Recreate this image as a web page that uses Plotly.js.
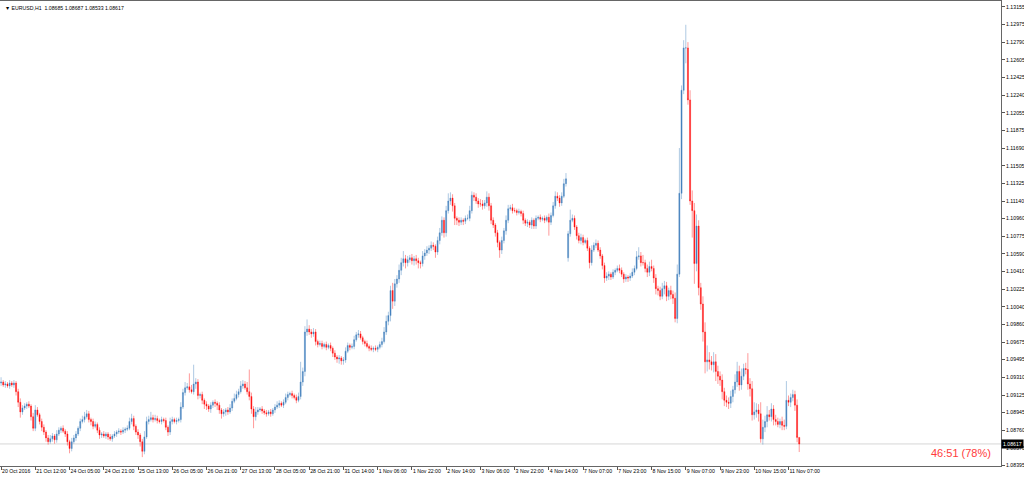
<!DOCTYPE html>
<html>
<head>
<meta charset="utf-8">
<script src="https://cdn.plot.ly/plotly-3.0.1.min.js"></script>
<style>html,body{margin:0;padding:0;background:#fff;}#chart{width:1024px;height:479px;}</style>
</head>
<body>
<div id="chart"></div>
<script>
// EURUSD H1 closes, 20 Oct 2016 20:00 -> 11 Nov 2016 12:00
const closes = [
1.0926,1.0923,1.0924,1.0922,1.0925,1.0923,1.0925,1.0916,1.0905,1.0895,
1.0899,1.0901,1.0903,1.0901,1.0890,1.0878,1.0897,1.0892,1.0885,1.0879,
1.0874,1.0868,1.0864,1.0867,1.0870,1.0866,1.0872,1.0876,1.0878,1.0875,
1.0872,1.0864,1.0857,1.0864,1.0868,1.0872,1.0878,1.0885,1.0887,1.0890,
1.0893,1.0887,1.0885,1.0880,1.0882,1.0876,1.0871,1.0872,1.0870,1.0872,
1.0869,1.0867,1.0870,1.0872,1.0874,1.0875,1.0874,1.0876,1.0877,1.0878,
1.0885,1.0888,1.0880,1.0874,1.0871,1.0864,1.0854,1.0869,1.0885,1.0887,
1.0889,1.0887,1.0888,1.0886,1.0885,1.0887,1.0886,1.0879,1.0874,1.0885,
1.0887,1.0885,1.0886,1.0887,1.0900,1.0915,1.0920,1.0921,1.0918,1.0916,
1.0924,1.0926,1.0912,1.0913,1.0907,1.0903,1.0901,1.0898,1.0902,1.0905,
1.0904,1.0902,1.0897,1.0893,1.0895,1.0897,1.0895,1.0899,1.0906,1.0909,
1.0913,1.0916,1.0922,1.0924,1.0920,1.0916,1.0911,1.0898,1.0890,1.0895,
1.0897,1.0898,1.0896,1.0894,1.0893,1.0895,1.0893,1.0897,1.0900,1.0902,
1.0904,1.0902,1.0905,1.0910,1.0913,1.0914,1.0912,1.0910,1.0907,1.0911,
1.0926,1.0937,1.0978,1.0981,1.0978,1.0976,1.0978,1.0968,1.0965,1.0966,
1.0963,1.0965,1.0962,1.0964,1.0961,1.0956,1.0952,1.0950,1.0951,1.0948,
1.0949,1.0958,1.0964,1.0962,1.0963,1.0970,1.0975,1.0976,1.0972,1.0968,
1.0966,1.0963,1.0961,1.0960,1.0961,1.0960,1.0962,1.0965,1.0968,1.0978,
1.0989,1.0995,1.1021,1.1010,1.1028,1.1033,1.1042,1.1050,1.1054,1.1050,
1.1053,1.1055,1.1052,1.1054,1.1052,1.1050,1.1049,1.1057,1.1060,1.1063,
1.1065,1.1068,1.1067,1.1061,1.1073,1.1081,1.1094,1.1081,1.1104,1.1114,
1.1117,1.1109,1.1096,1.1094,1.1092,1.1094,1.1093,1.1096,1.1096,1.1104,
1.1120,1.1118,1.1114,1.1111,1.1111,1.1109,1.1112,1.1118,1.1109,1.1094,
1.1089,1.1081,1.1071,1.1063,1.1073,1.1083,1.1094,1.1106,1.1107,1.1104,
1.1104,1.1102,1.1103,1.1101,1.1094,1.1091,1.1092,1.1089,1.1094,1.1088,
1.1096,1.1097,1.1095,1.1096,1.1094,1.1097,1.1092,1.1099,1.1109,1.1119,
1.1117,1.1112,1.1119,1.1132,1.1137,1.1080,1.1094,1.1096,1.1087,1.1078,
1.1073,1.1076,1.1071,1.1073,1.1065,1.1050,1.1063,1.1068,1.1070,1.1063,
1.1057,1.1047,1.1034,1.1036,1.1038,1.1035,1.1040,1.1042,1.1044,1.1042,
1.1038,1.1033,1.1035,1.1034,1.1036,1.1040,1.1044,1.1056,1.1057,1.1050,
1.1050,1.1044,1.1040,1.1046,1.1044,1.1034,1.1023,1.1021,1.1015,1.1023,
1.1026,1.1015,1.1021,1.1017,1.1013,1.0992,1.1038,1.1122,1.1229,1.1273,
1.1273,1.1219,1.1114,1.1104,1.1049,1.1088,1.1024,1.1007,1.0978,1.0947,
1.0949,1.0947,1.0944,1.0947,1.0937,1.0932,1.0928,1.0916,1.0907,1.0905,
1.0904,1.0911,1.0918,1.0926,1.0937,1.0923,1.0932,1.0940,1.0939,1.0924,
1.0919,1.0892,1.0895,1.0897,1.0893,1.0867,1.0879,1.0885,1.0892,1.0890,
1.0898,1.0887,1.0885,1.0882,1.0885,1.0881,1.0880,1.0907,1.0905,1.0910,
1.0913,1.0902,1.08685,1.08617
];
// upper / lower wick lengths in pips
const upperWickPips = [
5,2,3,2,3,2,3,2,3,4, 3,3,2,3,2,4,5,3,2,3, 3,2,3,4,3,2,4,3,2,3, 2,3,2,4,3,3,2,3,4,5,
4,3,2,3,3,2,3,2,3,2, 2,3,2,3,2,3,2,3,2,3, 4,5,3,2,3,2,3,6,5,4, 6,3,4,3,2,3,2,3,2,4,
3,2,3,2,5,4,6,4,14,5, 20,4,3,2,3,2,3,2,3,2, 3,2,3,2,3,2,3,4,3,5, 4,3,5,4,3,6,23,4,3,5,
3,2,3,2,3,2,3,2,3,4, 3,2,3,4,3,2,3,2,3,4, 21,4,6,10,4,3,4,3,2,3, 3,2,3,2,3,2,3,2,3,2,
3,4,3,2,3,4,3,4,3,2, 2,3,2,3,2,3,2,3,4,5, 6,4,5,8,5,4,6,5,8,4, 4,3,4,3,4,3,2,5,4,4,
3,4,3,2,4,5,4,3,5,8, 6,4,3,2,3,3,2,3,4,5, 4,3,4,3,5,4,3,6,4,3, 3,2,3,2,4,3,5,4,3,4,
3,2,3,2,3,2,3,2,3,2, 3,2,3,2,3,2,4,3,4,5, 4,3,4,5,6,3,11,4,3,2, 3,4,3,2,3,2,5,3,4,3,
3,2,3,4,3,2,3,2,3,4, 3,2,3,2,3,4,3,6,9,4, 8,3,4,5,7,3,4,3,4,6, 5,4,3,5,4,6,10,47,5,8,
24,6,10,11,8,12,6,5,8,10, 15,8,6,10,8,6,5,6,4,5, 5,6,4,8,10,6,8,5,6,17, 6,8,10,7,6,12,8,6,9,5,
6,4,5,4,3,5,6,20,5,4, 5,4,6,0.2
];
const lowerWickPips = [
3,2,3,2,3,2,3,4,5,6, 3,2,3,2,4,3,3,2,3,4, 3,4,3,2,3,4,3,2,3,2, 3,4,5,3,2,3,2,3,2,3,
2,3,4,3,2,3,4,3,2,3, 3,2,3,2,3,2,3,2,3,2, 2,3,4,3,4,5,6,3,2,3, 2,3,2,3,2,3,2,3,4,3,
3,2,3,2,3,2,3,2,3,2, 3,5,4,3,4,5,4,3,4,3, 4,5,4,5,3,4,3,2,3,2, 2,3,2,3,2,3,4,5,12,4,
3,2,3,2,3,2,3,2,3,2, 3,2,3,2,3,2,3,2,3,2, 3,4,5,4,3,4,3,4,3,2, 3,2,3,2,3,4,3,4,5,4,
4,3,2,3,2,3,2,3,2,3, 3,2,3,2,3,2,3,2,3,2, 3,4,6,8,5,4,4,5,4,6, 4,3,4,5,4,6,5,3,4,3,
4,3,4,6,3,4,3,5,4,3, 4,6,7,5,4,3,4,3,2,3, 3,4,3,4,3,4,3,4,5,4, 3,4,5,8,4,3,4,3,2,3,
2,3,2,3,4,3,4,3,4,3, 3,2,3,2,3,2,14,3,2,3, 3,4,3,2,3,4,3,2,3,4, 3,4,3,2,3,6,3,2,3,2,
3,4,5,3,4,3,2,3,2,3, 3,4,3,4,3,2,3,2,3,4, 3,4,5,4,3,5,6,5,4,3, 6,5,4,5,6,4,5,3,6,4,
16,5,4,28,21,8,8,6,10,12, 10,8,6,8,10,8,6,8,6,5, 6,5,6,4,5,6,5,4,5,6, 8,6,5,6,8,4,6,5,6,4,
5,6,4,3,4,5,4,3,4,5, 4,6,5,8.4
];
const firstOpen = 1.0925;
const gapBars = [265];          // Monday 7 Nov opening gap
const gapOpens = [1.1055];

const xTickBars = [0,16,32,48,64,80,96,112,128,144,160,176,192,208,224,240,256,272,288,304,320,336,352,368];
const xTickLabels = ["20 Oct 2016","21 Oct 12:00","24 Oct 05:00","24 Oct 21:00","25 Oct 13:00","26 Oct 05:00","26 Oct 21:00","27 Oct 13:00","28 Oct 05:00","28 Oct 21:00","31 Oct 14:00","1 Nov 06:00","1 Nov 22:00","2 Nov 14:00","3 Nov 06:00","3 Nov 22:00","4 Nov 14:00","7 Nov 07:00","7 Nov 23:00","8 Nov 15:00","9 Nov 07:00","9 Nov 23:00","10 Nov 15:00","11 Nov 07:00"];
const yTickValues = [1.13155,1.12975,1.12790,1.12605,1.12425,1.12240,1.12055,1.11875,1.11690,1.11505,1.11325,1.11140,1.10960,1.10775,1.10590,1.10410,1.10225,1.10040,1.09860,1.09675,1.09495,1.09310,1.09125,1.08945,1.08760,1.08575,1.08395];
const yTickLabels = yTickValues.map(v => v.toFixed(5));

const lastBar = {open:1.08685, high:1.08687, low:1.08533, close:1.08617};
const timerText = "46:51 (78%)";

// build OHLC table
const n = closes.length;
const xs = [], op = [], hi = [], lo = [];
for (let i = 0; i < n; i++) {
  xs.push(i);
  let o = i === 0 ? firstOpen : closes[i-1];
  const g = gapBars.indexOf(i);
  if (g >= 0) o = gapOpens[g];
  const c = closes[i];
  op.push(o);
  hi.push(+(Math.max(o,c) + upperWickPips[i]*0.0001).toFixed(5));
  lo.push(+(Math.min(o,c) - lowerWickPips[i]*0.0001).toFixed(5));
}

const font = "Liberation Sans, Arial, sans-serif";
const trace = {
  type: 'candlestick', x: xs, open: op, high: hi, low: lo, close: closes,
  increasing: {line: {color: 'rgba(70,130,190,0.55)', width: 0.8}, fillcolor: '#4682be'},
  decreasing: {line: {color: 'rgba(255,0,0,0.5)', width: 0.8}, fillcolor: '#ff1a1a'},
  whiskerwidth: 0, hoverinfo: 'skip', showlegend: false
};

const layout = {
  width: 1024, height: 479,
  margin: {l: 0, r: 23, t: 1, b: 13, pad: 0},
  paper_bgcolor: '#ffffff', plot_bgcolor: '#ffffff',
  font: {family: font, size: 5.2, color: '#000'},
  showlegend: false,
  xaxis: {
    type: 'linear', range: [-0.5, 467.3], rangeslider: {visible: false},
    tickmode: 'array', tickvals: xTickBars, ticktext: xTickLabels,
    tickangle: 0, automargin: false,
    ticks: 'outside', ticklen: 3, tickcolor: '#555', tickwidth: 1,
    ticklabelposition: 'outside right',
    showgrid: false, zeroline: false,
    showline: true, linecolor: '#666', linewidth: 1, mirror: true,
    tickfont: {family: font, size: 5.2, color: '#000'}
  },
  yaxis: {
    side: 'right', range: [1.08388, 1.13217], automargin: false,
    tickmode: 'array', tickvals: yTickValues, ticktext: yTickLabels,
    ticks: 'outside', ticklen: 3, tickcolor: '#555', tickwidth: 1,
    showgrid: false, zeroline: false,
    showline: true, linecolor: '#666', linewidth: 1, mirror: true,
    tickfont: {family: font, size: 5.2, color: '#000'}
  },
  shapes: [{
    type: 'line', xref: 'paper', x0: 0, x1: 1, yref: 'y', y0: lastBar.close, y1: lastBar.close,
    line: {color: '#d6d6d6', width: 1}, layer: 'below'
  }],
  annotations: [
    {xref: 'paper', yref: 'paper', x: 0, y: 1, xanchor: 'left', yanchor: 'top', xshift: 3, yshift: -2,
     text: '\u25BC EURUSD,H1  ' + [lastBar.open, lastBar.high, lastBar.low, lastBar.close].map(v => v.toFixed(5)).join(' '),
     showarrow: false, font: {family: font, size: 5.2, color: '#000'}},
    {xref: 'paper', yref: 'y', x: 1, y: lastBar.close, xanchor: 'left', yanchor: 'middle',
     text: lastBar.close.toFixed(5), showarrow: false, bgcolor: '#000', borderpad: 1,
     font: {family: font, size: 5.2, color: '#fff'}},
    {xref: 'paper', yref: 'paper', x: 1, y: 0.028, xanchor: 'right', yanchor: 'middle', xshift: -8,
     text: timerText, showarrow: false, font: {family: font, size: 11, color: '#ff3b3b'}}
  ]
};

Plotly.newPlot('chart', [trace], layout, {displayModeBar: false, staticPlot: true});
</script>
</body>
</html>
